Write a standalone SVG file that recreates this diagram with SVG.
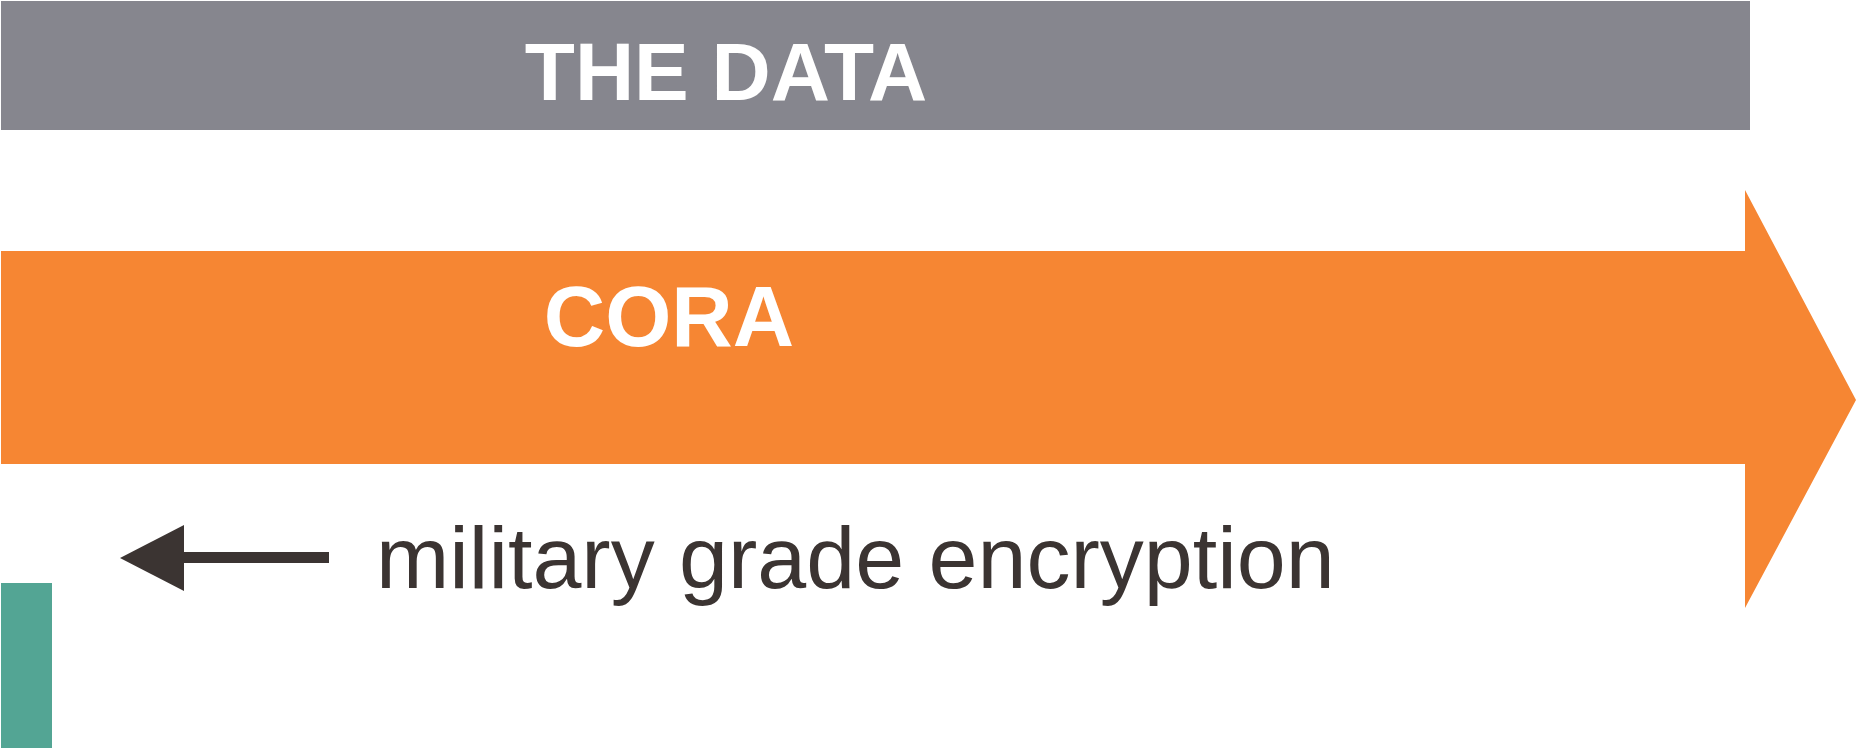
<svg xmlns="http://www.w3.org/2000/svg" width="1856" height="748" viewBox="0 0 1856 748">
<style>
.bold{font-family:"Liberation Sans",Arial,sans-serif;font-weight:bold;fill:#ffffff}
.reg{font-family:"Liberation Sans",Arial,sans-serif;fill:#3b3432}
</style>
<rect width="1856" height="748" fill="#ffffff"/>
<g id="the-data">
<rect x="1" y="1" width="1749" height="129" fill="#86868e"/>
<text class="bold" x="726" y="100" font-size="82" text-anchor="middle">THE DATA</text>
</g>
<g id="cora">
<polygon points="1,251 1745,251 1745,190 1856,400 1745,608 1745,464 1,464" fill="#f68633"/>
<text class="bold" x="669" y="346" font-size="85" text-anchor="middle">CORA</text>
</g>
<g id="target">
<rect x="1" y="583" width="51" height="165" fill="#53a594"/>
</g>
<g id="connectors">
<rect x="182" y="552" width="147" height="11" fill="#3b3432"/>
<polygon points="120,558 184,525 184,591" fill="#3b3432"/>
</g>
<g id="label">
<text class="reg" x="376" y="588" font-size="88">military grade encryption</text>
</g>
</svg>
